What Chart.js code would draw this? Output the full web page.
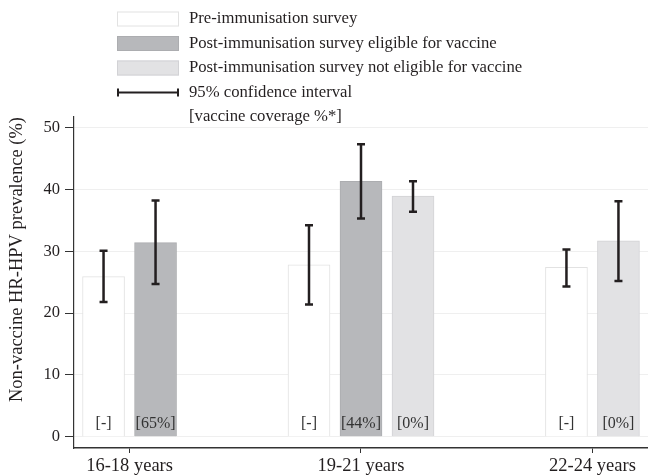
<!DOCTYPE html>
<html>
<head>
<meta charset="utf-8">
<script src="https://cdn.jsdelivr.net/npm/chart.js@4.4.0/dist/chart.umd.min.js"></script>
<style>
  html, body { margin: 0; padding: 0; background: #fff; }
  #wrap { width: 648px; height: 475px; }
</style>
</head>
<body>
<div id="wrap"><canvas id="prevalence"></canvas></div>
<script>
// age groups on the x axis
var ageGroups = ["16-18 years", "19-21 years", "22-24 years"];
var surveyNames = [
  "Pre-immunisation survey",
  "Post-immunisation survey eligible for vaccine",
  "Post-immunisation survey not eligible for vaccine"
];

// prevalence (%) per survey, null = no bar
var preValues = [25.9, 27.8, 27.4];
var eligibleValues = [31.4, 41.3, null];
var notEligibleValues = [null, 38.9, 31.7];

// 95% confidence intervals
var preLow = [21.8, 21.4, 24.3];
var preHigh = [30.1, 34.2, 30.3];
var eligibleLow = [24.7, 35.3, null];
var eligibleHigh = [38.2, 47.3, null];
var notEligibleLow = [null, 36.4, 25.2];
var notEligibleHigh = [null, 41.3, 38.1];

// vaccine coverage labels
var preCoverage = ["[-]", "[-]", "[-]"];
var eligibleCoverage = ["[65%]", "[44%]", null];
var notEligibleCoverage = [null, "[0%]", "[0%]"];

var yTicks = [0, 10, 20, 30, 40, 50];

var serif = "'Liberation Serif', 'Times New Roman', serif";
var textColor = "#231f20";

function points(values) {
  return values.map(function (v, i) { return { x: i, y: v }; });
}

// bars are placed by barThickness (slot), then narrowed to leave a gap
var shrinkBars = {
  id: "shrinkBars",
  afterDatasetsUpdate: function (chart) {
    chart.data.datasets.forEach(function (ds, i) {
      chart.getDatasetMeta(i).data.forEach(function (bar) {
        bar.width = bar.width - 10;
      });
    });
  }
};

var errorBars = {
  id: "errorBars",
  afterDatasetsDraw: function (chart) {
    var ctx = chart.ctx;
    var y = chart.scales.y;
    ctx.save();
    ctx.strokeStyle = textColor;
    ctx.lineWidth = 2.5;
    chart.data.datasets.forEach(function (ds, i) {
      chart.getDatasetMeta(i).data.forEach(function (bar, j) {
        if (ds.low[j] == null) return;
        var top = y.getPixelForValue(ds.high[j]);
        var bot = y.getPixelForValue(ds.low[j]);
        ctx.beginPath();
        ctx.moveTo(bar.x, top); ctx.lineTo(bar.x, bot);
        ctx.moveTo(bar.x - 4, top); ctx.lineTo(bar.x + 4, top);
        ctx.moveTo(bar.x - 4, bot); ctx.lineTo(bar.x + 4, bot);
        ctx.stroke();
      });
    });
    // coverage labels
    ctx.fillStyle = "#333";
    ctx.font = "16px " + serif;
    ctx.textAlign = "center";
    ctx.textBaseline = "middle";
    chart.data.datasets.forEach(function (ds, i) {
      chart.getDatasetMeta(i).data.forEach(function (bar, j) {
        if (!ds.coverage[j]) return;
        ctx.fillText(ds.coverage[j], bar.x, bar.base - 13);
      });
    });
    ctx.restore();
  }
};

var sideLegend = {
  id: "sideLegend",
  afterDraw: function (chart) {
    var ctx = chart.ctx;
    var bx = 117, bw = 62, bh = 15, tx = 189, y0 = 19, step = 24.5;
    ctx.save();
    ctx.font = "16.7px " + serif;
    ctx.textBaseline = "middle";
    ctx.textAlign = "left";
    chart.data.datasets.forEach(function (ds, i) {
      var cy = y0 + i * step;
      ctx.fillStyle = ds.backgroundColor;
      ctx.fillRect(bx, cy - bh / 2, bw, bh);
      ctx.strokeStyle = ds.borderColor;
      ctx.lineWidth = 1;
      ctx.strokeRect(bx + 0.5, cy - bh / 2 + 0.5, bw - 1, bh - 1);
      ctx.fillStyle = textColor;
      ctx.fillText(ds.label, tx, cy);
    });
    var cy = y0 + 3 * step;
    ctx.strokeStyle = textColor;
    ctx.lineWidth = 2;
    ctx.beginPath();
    ctx.moveTo(bx, cy); ctx.lineTo(bx + bw, cy);
    ctx.moveTo(bx + 1, cy - 4); ctx.lineTo(bx + 1, cy + 4);
    ctx.moveTo(bx + bw - 1, cy - 4); ctx.lineTo(bx + bw - 1, cy + 4);
    ctx.stroke();
    ctx.fillStyle = textColor;
    ctx.fillText("95% confidence interval", tx, cy);
    ctx.fillText("[vaccine coverage %*]", tx, y0 + 4 * step);
    ctx.restore();
  }
};

new Chart("prevalence", {
  type: "bar",
  data: {
    datasets: [{
      label: surveyNames[0],
      data: points(preValues),
      low: preLow, high: preHigh, coverage: preCoverage,
      backgroundColor: "#ffffff",
      borderColor: "#e2e2e2",
      borderWidth: 1
    }, {
      label: surveyNames[1],
      data: points(eligibleValues),
      low: eligibleLow, high: eligibleHigh, coverage: eligibleCoverage,
      backgroundColor: "#b7b8bb",
      borderColor: "#acadb0",
      borderWidth: 1
    }, {
      label: surveyNames[2],
      data: points(notEligibleValues),
      low: notEligibleLow, high: notEligibleHigh, coverage: notEligibleCoverage,
      backgroundColor: "#e2e2e4",
      borderColor: "#d2d2d5",
      borderWidth: 1
    }]
  },
  options: {
    responsive: true,
    maintainAspectRatio: false,
    animation: false,
    skipNull: true,
    barThickness: 52,
    layout: { padding: { top: 117, right: 0, left: 1, bottom: 0 } },
    plugins: {
      legend: { display: false },
      tooltip: { enabled: false }
    },
    scales: {
      x: {
        type: "linear",
        min: -0.24,
        max: 2.24,
        offset: false,
        afterFit: function (scale) { scale.height = 27; },
        grid: { offset: false, drawOnChartArea: false, tickLength: 5, tickColor: "#333" },
        border: { color: "#333", width: 1.5 },
        ticks: {
          stepSize: 1,
          includeBounds: false,
          padding: 2,
          color: textColor,
          font: { family: serif, size: 18.5 },
          callback: function (v) { return ageGroups[v]; }
        }
      },
      y: {
        min: -1.8,
        max: 51.7,
        afterFit: function (scale) { scale.width = 73; },
        grid: { color: "#efefef", tickColor: "#333", tickLength: 9 },
        border: { color: "#333", width: 1.2 },
        afterBuildTicks: function (scale) {
          scale.ticks = yTicks.map(function (v) { return { value: v }; });
        },
        ticks: {
          padding: 5,
          color: textColor,
          font: { family: serif, size: 16.5 }
        },
        title: {
          display: true,
          align: "end",
          text: "Non-vaccine HR-HPV prevalence (%)",
          color: textColor,
          font: { family: serif, size: 18.5 },
          padding: { top: 5, bottom: 0 }
        }
      }
    }
  },
  plugins: [shrinkBars, errorBars, sideLegend]
});
</script>
</body>
</html>
